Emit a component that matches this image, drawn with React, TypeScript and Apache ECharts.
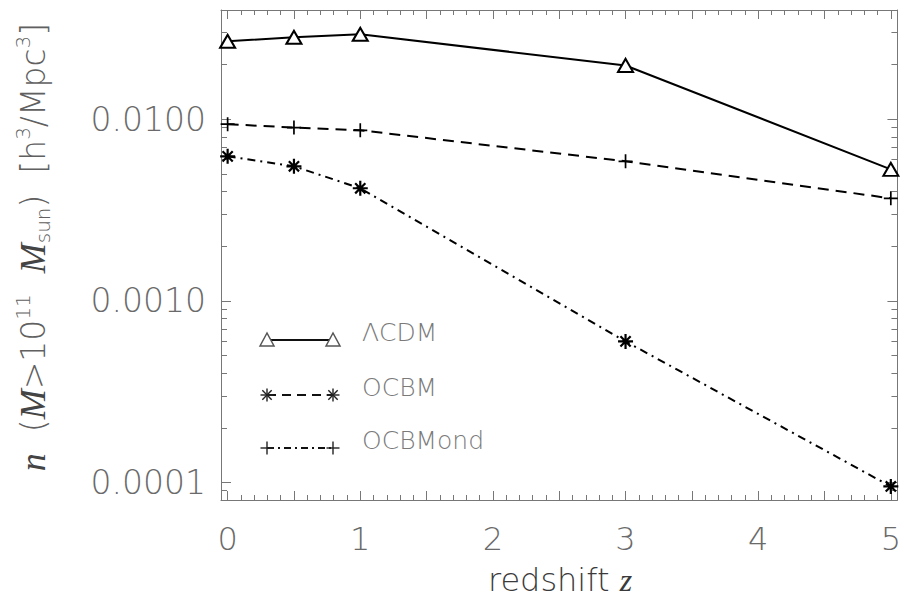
import { useEffect, useRef } from 'react';
import * as echarts from 'echarts';

// ---- data ----
const redshift = [0, 0.5, 1, 3, 5];
const lcdmDensity = [0.0269, 0.0283, 0.0294, 0.0198, 0.0053];
const ocbmDensity = [0.0094, 0.009, 0.0087, 0.00587, 0.00367];
const ocbmondDensity = [0.00625, 0.00551, 0.00417, 0.000598, 0.000095];
const xTickLabels = [0, 1, 2, 3, 4, 5];
const yTickLabels = ['0.0001', '0.0010', '0.0100'];
const yTickValues = [1e-4, 1e-3, 1e-2];

const X_MIN = -0.05;
const X_MAX = 5.05;
const Y_MIN = 8e-5;
const Y_MAX = 0.04;

const SANS = "'DejaVu Sans', 'Liberation Sans', sans-serif";
const SERIF = "'Liberation Serif', 'DejaVu Serif', serif";
const BOX = '#777777';
const LABEL = '#6a6a6a';

const TRI = 'path://M0,10 L5,0 L10,10 Z';
const PLUS = 'path://M0,5 L10,5 M5,0 L5,10';
const STAR = 'path://M0,5 L10,5 M5,0 L5,10 M1.6,1.6 L8.4,8.4 M8.4,1.6 L1.6,8.4';

const xMajor = Array.from({ length: 11 }, (_, i) => +(i * 0.5).toFixed(1));
const xMinor = Array.from({ length: 51 }, (_, i) => +(i * 0.1).toFixed(1));
const yMajorLog = yTickValues.map((v) => Math.log10(v));
const yMinorLog: number[] = [];
for (let d = -5; d <= -2; d++) {
  for (let k = 2; k <= 9; k++) {
    const v = k * Math.pow(10, d);
    if (v > Y_MIN && v < Y_MAX) yMinorLog.push(Math.log10(v));
  }
}

function xAxisCfg(position: string, ticks: number[], len: number, line: boolean, labels: boolean) {
  return {
    type: 'value',
    min: X_MIN,
    max: X_MAX,
    position,
    axisLine: { show: line, onZero: false, lineStyle: { color: BOX, width: 1 } },
    axisTick: { show: true, inside: true, length: len, customValues: ticks, lineStyle: { color: BOX, width: 1 } },
    axisLabel: labels
      ? {
          show: true,
          customValues: xTickLabels,
          margin: 23,
          fontSize: 32,
          fontFamily: SANS,
          fontWeight: 200,
          color: LABEL,
          formatter: (v: number) => String(v),
        }
      : { show: false },
    splitLine: { show: false },
  };
}

function yTickAxisCfg(position: string, ticks: number[], len: number, labels: boolean) {
  return {
    type: 'value',
    min: Math.log10(Y_MIN),
    max: Math.log10(Y_MAX),
    position,
    axisLine: { show: false, onZero: false },
    axisTick: { show: true, inside: true, length: len, customValues: ticks, lineStyle: { color: BOX, width: 1 } },
    axisLabel: labels
      ? {
          show: true,
          customValues: yMajorLog,
          margin: 15,
          fontSize: 33,
          fontFamily: SANS,
          fontWeight: 200,
          color: LABEL,
          formatter: (v: number) => {
            const i = yMajorLog.findIndex((m) => Math.abs(m - v) < 1e-6);
            return i >= 0 ? yTickLabels[i] : '';
          },
        }
      : { show: false },
    splitLine: { show: false },
  };
}

function yLogAxisCfg(position: string) {
  return {
    type: 'log',
    logBase: 10,
    min: Y_MIN,
    max: Y_MAX,
    position,
    axisLine: { show: true, onZero: false, lineStyle: { color: BOX, width: 1 } },
    axisTick: { show: false },
    axisLabel: { show: false },
    splitLine: { show: false },
  };
}

// legend rows (as drawn in the reference, including its marker choice)
const legendRows = [
  { label: 'ΛCDM', y: 340, dash: 'solid' as any, marker: 'triangle' },
  { label: 'OCBM', y: 395, dash: [9, 6], marker: 'star' },
  { label: 'OCBMond', y: 448, dash: [7, 4, 2, 4], marker: 'plus' },
];

function markerGraphic(kind: string, cx: number, cy: number): any[] {
  if (kind === 'triangle') {
    return [
      {
        type: 'polygon',
        shape: { points: [[cx - 7, cy + 6], [cx, cy - 7], [cx + 7, cy + 6]] },
        style: { fill: '#fff', stroke: '#555', lineWidth: 1.5 },
        z: 10,
      },
    ];
  }
  const r = 6.5;
  const segs: number[][] = [
    [cx - r, cy, cx + r, cy],
    [cx, cy - r, cx, cy + r],
  ];
  if (kind === 'star') {
    const d = r * 0.72;
    segs.push([cx - d, cy - d, cx + d, cy + d], [cx + d, cy - d, cx - d, cy + d]);
  }
  return segs.map((s) => ({
    type: 'line',
    shape: { x1: s[0], y1: s[1], x2: s[2], y2: s[3] },
    style: { stroke: '#222', lineWidth: 1.4 },
    z: 10,
  }));
}

function legendGraphics(): any[] {
  const out: any[] = [];
  legendRows.forEach((row) => {
    out.push({
      type: 'line',
      shape: { x1: 267, y1: row.y, x2: 333, y2: row.y },
      style: {
        stroke: '#111',
        lineWidth: 2,
        lineDash: row.dash === 'solid' ? null : row.dash,
      },
      z: 9,
    });
    out.push(...markerGraphic(row.marker, 267, row.y));
    out.push(...markerGraphic(row.marker, 333, row.y));
    out.push({
      type: 'text',
      x: 362,
      y: row.y - 8,
      style: {
        text: row.label,
        fontSize: 25,
        fontFamily: SANS,
        fontWeight: 200,
        fill: '#7a7a7a',
        align: 'left',
        verticalAlign: 'middle',
      },
      z: 10,
    });
  });
  return out;
}

export default function App() {
  const ref = useRef<HTMLDivElement>(null);

  useEffect(() => {
    document.body.style.margin = '0';
    const chart = echarts.init(ref.current!, null, { renderer: 'svg' });

    const pts = (vals: number[]) => redshift.map((z, i) => [z, vals[i]]);

    const option: any = {
      animation: false,
      backgroundColor: '#ffffff',
      grid: { left: 221, right: 4, top: 10, bottom: 98, containLabel: false },
      xAxis: [
        xAxisCfg('bottom', xMajor, 9, true, true),
        xAxisCfg('bottom', xMinor, 5, false, false),
        xAxisCfg('top', xMajor, 9, true, false),
        xAxisCfg('top', xMinor, 5, false, false),
      ],
      yAxis: [
        yLogAxisCfg('left'),
        yTickAxisCfg('left', yMajorLog, 10, true),
        yTickAxisCfg('left', yMinorLog, 6, false),
        yLogAxisCfg('right'),
        yTickAxisCfg('right', yMajorLog, 10, false),
        yTickAxisCfg('right', yMinorLog, 6, false),
      ],
      series: [
        {
          name: 'ΛCDM',
          type: 'line',
          xAxisIndex: 0,
          yAxisIndex: 0,
          data: pts(lcdmDensity),
          symbol: TRI,
          symbolSize: [15, 13],
          showAllSymbol: true,
          clip: false,
          lineStyle: { color: '#000', width: 2, type: 'solid' },
          itemStyle: { color: '#fff', borderColor: '#000', borderWidth: 2 },
          emphasis: { disabled: true },
          z: 3,
        },
        {
          name: 'OCBM',
          type: 'line',
          xAxisIndex: 0,
          yAxisIndex: 0,
          data: pts(ocbmDensity),
          symbol: PLUS,
          symbolSize: 14,
          showAllSymbol: true,
          clip: false,
          lineStyle: { color: '#000', width: 2, type: [11, 7] },
          itemStyle: { color: 'none', borderColor: '#000', borderWidth: 1.7 },
          emphasis: { disabled: true },
          z: 3,
        },
        {
          name: 'OCBMond',
          type: 'line',
          xAxisIndex: 0,
          yAxisIndex: 0,
          data: pts(ocbmondDensity),
          symbol: STAR,
          symbolSize: 15,
          showAllSymbol: true,
          clip: false,
          lineStyle: { color: '#000', width: 2, type: [8, 5, 2, 5] },
          itemStyle: { color: 'none', borderColor: '#000', borderWidth: 2.2 },
          emphasis: { disabled: true },
          z: 3,
        },
      ],
      graphic: [
        ...legendGraphics(),
        {
          type: 'text',
          x: 560,
          y: 580,
          style: {
            text: '{r|redshift }{z|z}',
            align: 'center',
            verticalAlign: 'middle',
            rich: {
              r: { fontSize: 32, fontFamily: SANS, fontWeight: 300, fill: '#3a3a3a', lineHeight: 36 },
              z: { fontSize: 32, fontFamily: SERIF, fontStyle: 'italic', fill: '#3a3a3a', lineHeight: 36 },
            },
          },
        },
        {
          type: 'text',
          x: 33,
          y: 247,
          rotation: Math.PI / 2,
          style: {
            text: '{i|n}{t|  (}{i|M}{t|>10}{sup|11}{t|  }{i|M}{sub|sun}{t|)  [h}{sup|3}{t|/Mpc}{sup|3}{t|]}',
            align: 'center',
            verticalAlign: 'middle',
            rich: {
              t: { fontSize: 33, fontFamily: SANS, fontWeight: 200, fill: '#606060', lineHeight: 40 },
              i: { fontSize: 36, fontFamily: SERIF, fontStyle: 'italic', fontWeight: 'normal', fill: '#444', lineHeight: 40 },
              sup: { fontSize: 20, fontFamily: SANS, fontWeight: 200, fill: '#606060', lineHeight: 22, verticalAlign: 'top' },
              sub: { fontSize: 20, fontFamily: SANS, fontWeight: 200, fill: '#606060', lineHeight: 20, verticalAlign: 'bottom' },
            },
          },
        },
      ],
    };

    chart.setOption(option);
    return () => chart.dispose();
  }, []);

  return <div ref={ref} style={{ width: 904, height: 598 }} />;
}
